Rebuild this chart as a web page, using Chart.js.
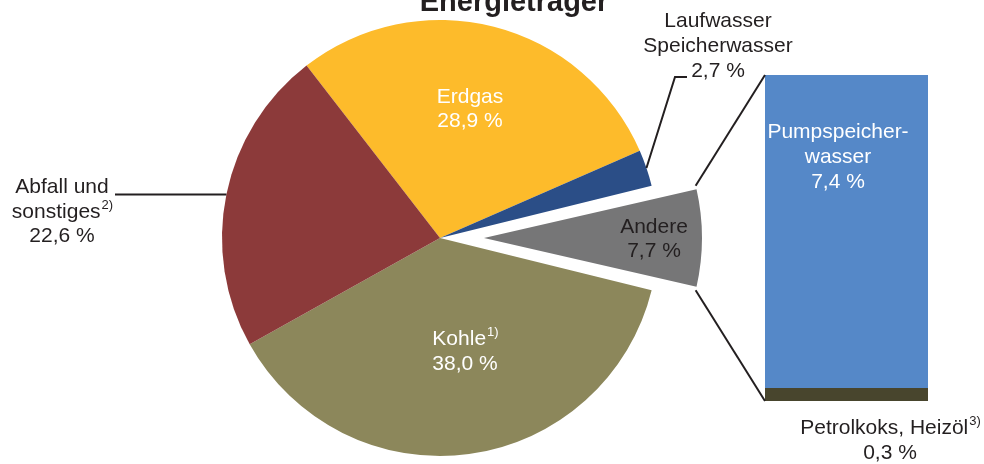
<!DOCTYPE html>
<html>
<head>
<meta charset="utf-8">
<script src="https://cdn.jsdelivr.net/npm/chart.js@4.4.1/dist/chart.umd.min.js"></script>
<style>
  html, body { margin: 0; padding: 0; background: #fff; }
  #wrap { position: relative; width: 984px; height: 464px; overflow: hidden; }
  #wrap canvas { position: absolute; left: 0; top: 0; }
</style>
</head>
<body>
<div id="wrap">
  <canvas id="pie" width="984" height="464"></canvas>
  <canvas id="bar" width="984" height="464"></canvas>
</div>
<script>
// pie: shares of energy sources (in %)
const pieLabels = ['Erdgas', 'Laufwasser Speicherwasser', 'Andere', 'Kohle', 'Abfall und sonstiges'];
const pieValues = [28.9, 2.7, 7.7, 38.0, 22.6];
const pieColors = ['#FDBB2B', '#2B4E87', '#767677', '#8C875B', '#8C3A3A'];

// bar: breakdown of "Andere"
const barLabels = ['Andere'];
const barSeries = ['Petrolkoks, Heizöl', 'Pumpspeicherwasser'];
const petrolValues = [0.3];
const pumpValues = [7.4];
const barColors = ['#48452D', '#5588C8'];

const TEXT = '#231F20';
const FONT = '"Liberation Sans", Arial, sans-serif';
const FS = 21;        // label font size
const R = 218;        // pie radius
const EXPLODE = 44;   // shift of the "Andere" slice

const pieTotal = pieValues.reduce((a, b) => a + b, 0);
// turn the pie so that "Andere" points straight to the right
const rotation = 90 - (pieValues[0] + pieValues[1] + pieValues[2] / 2) / pieTotal * 360;

function text(ctx, str, x, y, color, size, weight) {
  ctx.font = (weight || 'normal') + ' ' + size + 'px ' + FONT;
  ctx.fillStyle = color;
  ctx.textAlign = 'center';
  ctx.textBaseline = 'middle';
  ctx.fillText(str, x, y);
}

// text with a small raised footnote, centered as a whole
function textSup(ctx, str, sup, x, y, color, size) {
  ctx.font = size + 'px ' + FONT;
  const w1 = ctx.measureText(str).width;
  ctx.font = Math.round(size * 0.6) + 'px ' + FONT;
  const w2 = ctx.measureText(sup).width;
  const left = x - (w1 + w2) / 2;
  ctx.fillStyle = color;
  ctx.textAlign = 'left';
  ctx.textBaseline = 'middle';
  ctx.font = size + 'px ' + FONT;
  ctx.fillText(str, left, y);
  ctx.font = Math.round(size * 0.6) + 'px ' + FONT;
  ctx.fillText(sup, left + w1 + 1, y - size * 0.3);
}

function line(ctx, pts) {
  ctx.beginPath();
  ctx.moveTo(pts[0][0], pts[0][1]);
  for (let i = 1; i < pts.length; i++) ctx.lineTo(pts[i][0], pts[i][1]);
  ctx.strokeStyle = TEXT;
  ctx.lineWidth = 2;
  ctx.stroke();
}

function midPoint(arc, r) {
  const a = (arc.startAngle + arc.endAngle) / 2;
  return [arc.x + Math.cos(a) * r, arc.y + Math.sin(a) * r];
}

const pieDecor = {
  id: 'pieDecor',
  afterDatasetsUpdate(chart) {
    // keep the exploded slice at the same radius as the others
    const arc = chart.getDatasetMeta(0).data[2];
    const circ = arc.endAngle - arc.startAngle;
    const fix = 1 - Math.sin(Math.min(Math.PI, circ));
    arc.outerRadius = R - EXPLODE * fix;
  },
  afterDraw(chart) {
    const ctx = chart.ctx;
    const arcs = chart.getDatasetMeta(0).data;
    ctx.save();

    text(ctx, 'Energieträger', 514, 3, TEXT, 29, 'bold');

    text(ctx, 'Erdgas', 470, 97, '#fff', FS);
    text(ctx, '28,9 %', 470, 121, '#fff', FS);

    textSup(ctx, 'Kohle', '1)', 465, 339, '#fff', FS);
    text(ctx, '38,0 %', 465, 364, '#fff', FS);

    text(ctx, 'Andere', 654, 227, TEXT, FS);
    text(ctx, '7,7 %', 654, 251, TEXT, FS);

    // Laufwasser label and leader
    text(ctx, 'Laufwasser', 718, 21, TEXT, FS);
    text(ctx, 'Speicherwasser', 718, 46, TEXT, FS);
    text(ctx, '2,7 %', 718, 71, TEXT, FS);
    const lp = midPoint(arcs[1], R);
    line(ctx, [lp, [675, 77], [687, 77]]);

    // Abfall label and leader
    text(ctx, 'Abfall und', 62, 187, TEXT, FS);
    textSup(ctx, 'sonstiges', '2)', 62, 212, TEXT, FS);
    text(ctx, '22,6 %', 62, 236, TEXT, FS);
    const ap = midPoint(arcs[4], R);
    line(ctx, [ap, [115, ap[1]]]);

    ctx.restore();
  }
};

const pieChart = new Chart(document.getElementById('pie'), {
  type: 'pie',
  data: {
    labels: pieLabels,
    datasets: [{
      data: pieValues,
      backgroundColor: pieColors,
      borderWidth: 0,
      offset: [0, 0, EXPLODE * 4, 0, 0],
      hoverOffset: 0,
    }],
  },
  options: {
    responsive: false,
    animation: false,
    events: [],
    rotation: rotation,
    radius: R,
    layout: { padding: { left: 0, right: 104, top: 12, bottom: 0 } },
    plugins: {
      legend: { display: false },
      tooltip: { enabled: false },
    },
  },
  plugins: [pieDecor],
});

const barDecor = {
  id: 'barDecor',
  afterDraw(chart) {
    const ctx = chart.ctx;
    const arc = pieChart.getDatasetMeta(0).data[2];
    const a = (arc.startAngle + arc.endAngle) / 2;
    const cx = arc.x + Math.cos(a) * EXPLODE;
    const cy = arc.y + Math.sin(a) * EXPLODE;
    const top = [cx + Math.cos(arc.startAngle) * R, cy + Math.sin(arc.startAngle) * R];
    const bottom = [cx + Math.cos(arc.endAngle) * R, cy + Math.sin(arc.endAngle) * R];

    const upper = chart.getDatasetMeta(1).data[0];
    const lower = chart.getDatasetMeta(0).data[0];
    const left = upper.x - upper.width / 2;

    ctx.save();
    line(ctx, [top, [left, upper.y]]);
    line(ctx, [bottom, [left, lower.base]]);

    text(ctx, 'Pumpspeicher-', 838, 132, '#fff', FS);
    text(ctx, 'wasser', 838, 157, '#fff', FS);
    text(ctx, '7,4 %', 838, 182, '#fff', FS);

    textSup(ctx, 'Petrolkoks, Heizöl', '3)', 890, 428, TEXT, FS);
    text(ctx, '0,3 %', 890, 453, TEXT, FS);
    ctx.restore();
  }
};

new Chart(document.getElementById('bar'), {
  type: 'bar',
  data: {
    labels: barLabels,
    datasets: [
      { label: barSeries[0], data: petrolValues, backgroundColor: barColors[0] },
      { label: barSeries[1], data: pumpValues, backgroundColor: barColors[1] },
    ],
  },
  options: {
    responsive: false,
    animation: false,
    events: [],
    layout: { padding: { left: 765, right: 56, top: 75, bottom: 63 } },
    datasets: { bar: { barPercentage: 1, categoryPercentage: 1, borderWidth: 0 } },
    plugins: {
      legend: { display: false },
      tooltip: { enabled: false },
    },
    scales: {
      x: { stacked: true, display: false },
      y: { stacked: true, display: false, min: 0, max: petrolValues[0] + pumpValues[0] },
    },
  },
  plugins: [barDecor],
});
</script>
</body>
</html>
